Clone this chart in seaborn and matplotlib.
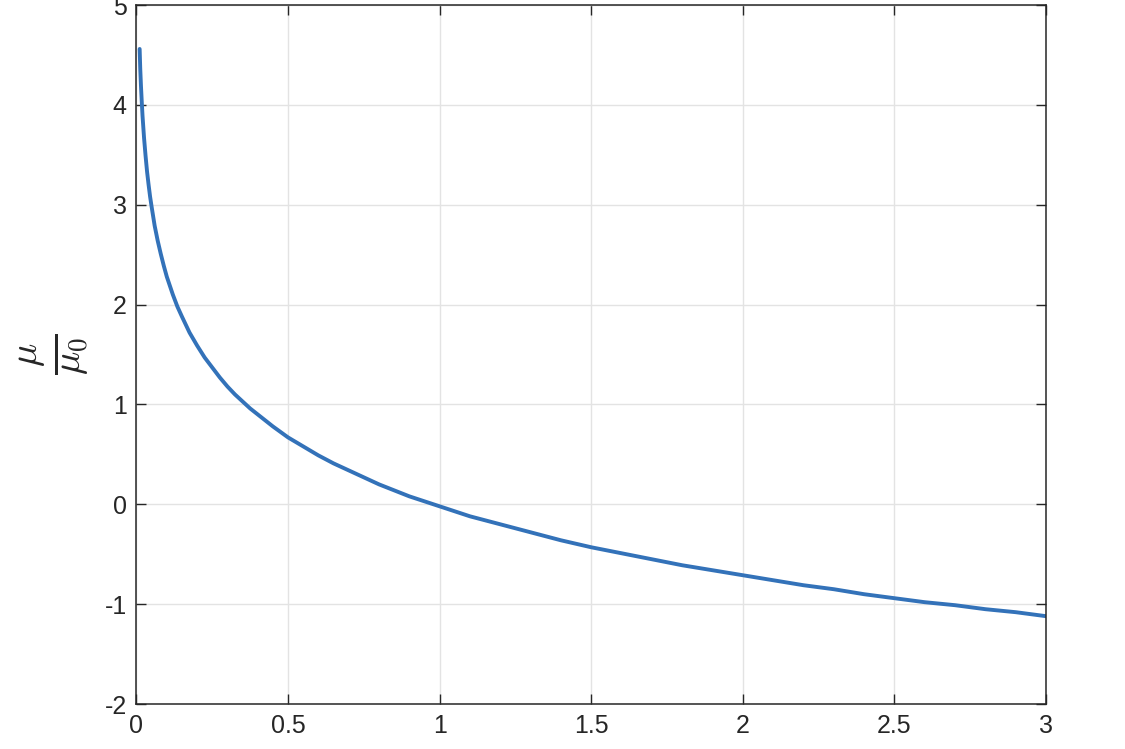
import pandas as pd
import seaborn as sns
import matplotlib
matplotlib.use("Agg")
import matplotlib.pyplot as plt

# values
x_vals = [0.0105, 0.0125, 0.015, 0.0175, 0.02, 0.025, 0.03, 0.035, 0.04, 0.045,
          0.05, 0.06, 0.07, 0.08, 0.09, 0.10, 0.11, 0.12, 0.135, 0.15, 0.175,
          0.20, 0.225, 0.25, 0.275, 0.30, 0.325, 0.35, 0.375, 0.40, 0.45, 0.50,
          0.55, 0.60, 0.65, 0.70, 0.75, 0.80, 0.85, 0.90, 0.95, 1.00, 1.1, 1.2,
          1.3, 1.4, 1.5, 1.6, 1.7, 1.8, 1.9, 2.0, 2.1, 2.2, 2.3, 2.4, 2.5, 2.6,
          2.7, 2.8, 2.9, 3.0]
y_vals = [4.56, 4.36, 4.18, 4.03, 3.89, 3.67, 3.49, 3.33, 3.20, 3.08,
          2.98, 2.79, 2.64, 2.51, 2.39, 2.28, 2.19, 2.10, 1.98, 1.88, 1.72,
          1.59, 1.47, 1.37, 1.27, 1.18, 1.10, 1.03, 0.96, 0.90, 0.78, 0.67,
          0.58, 0.49, 0.41, 0.34, 0.27, 0.20, 0.14, 0.08, 0.03, -0.02, -0.12, -0.20,
          -0.28, -0.36, -0.43, -0.49, -0.55, -0.61, -0.66, -0.71, -0.76, -0.81, -0.85, -0.90, -0.94, -0.98,
          -1.01, -1.05, -1.08, -1.12]
x_ticks = [0, 0.5, 1, 1.5, 2, 2.5, 3]
x_ticklabels = ["0", "0.5", "1", "1.5", "2", "2.5", "3"]
y_ticks = [-2, -1, 0, 1, 2, 3, 4, 5]
y_ticklabels = ["-2", "-1", "0", "1", "2", "3", "4", "5"]

df = pd.DataFrame({"x": x_vals, "y": y_vals})

sns.set_style("ticks")
plt.rcParams["font.family"] = ["Liberation Sans", "DejaVu Sans"]
plt.rcParams["mathtext.fontset"] = "cm"

fig = plt.figure(figsize=(11.25, 7.49), dpi=100)
ax = fig.add_axes([0.1213, 0.060, 0.8085, 0.9333])

sns.lineplot(data=df, x="x", y="y", ax=ax, color="#3372b9", linewidth=2.8)

ax.set_xlim(0, 3)
ax.set_ylim(-2, 5)
ax.set_xticks(x_ticks)
ax.set_xticklabels(x_ticklabels)
ax.set_yticks(y_ticks)
ax.set_yticklabels(y_ticklabels)
ax.grid(True, color="#e3e3e3", linewidth=1.0)
ax.set_axisbelow(True)

for s in ax.spines.values():
    s.set_visible(True)
    s.set_color("#262626")
    s.set_linewidth(1.1)

ax.tick_params(direction="in", length=7, width=1.0, color="#262626",
               labelcolor="#262626", labelsize=18, top=True, right=True,
               pad=7)

ax.set_xlabel("")
ax.set_ylabel(r"$\frac{\mu}{\mu_0}$", fontsize=40, color="#262626", labelpad=10)

fig.savefig("out.png", dpi=100)
